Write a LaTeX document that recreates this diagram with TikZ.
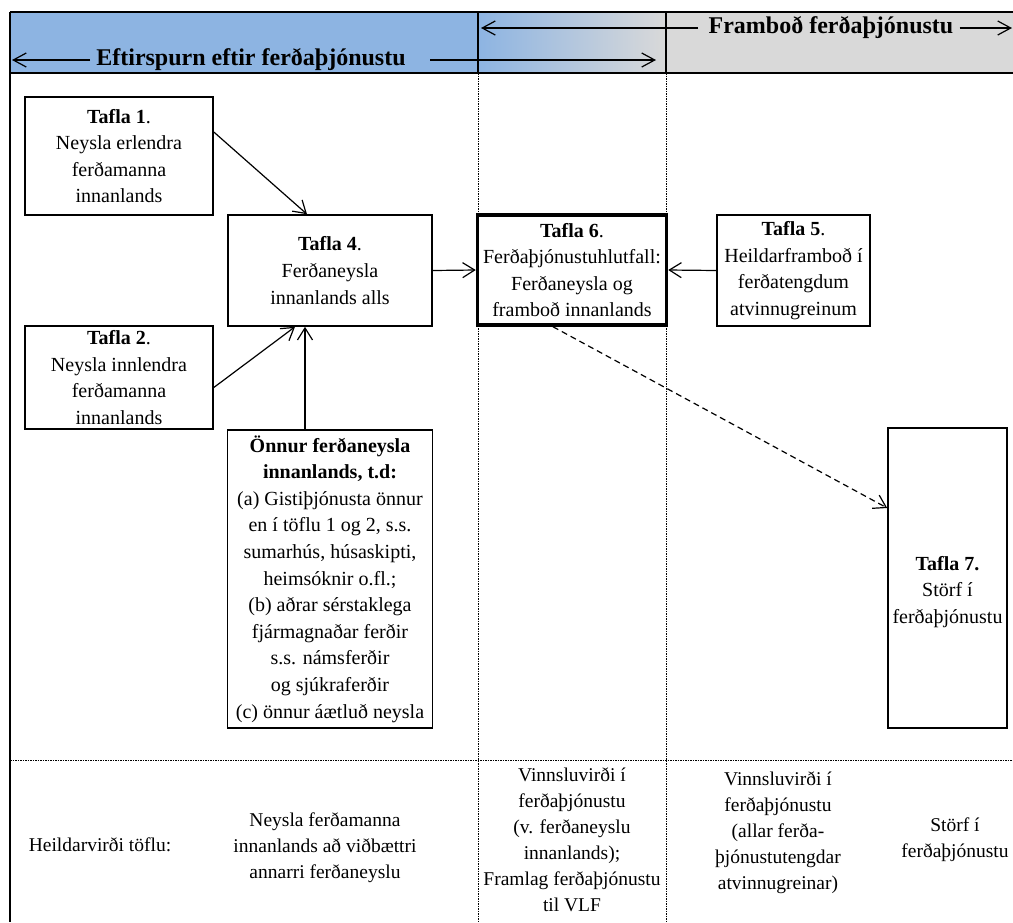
\documentclass[tikz,border=0pt]{standalone}
\usepackage{fontspec}
\setmainfont{Liberation Serif}
\usetikzlibrary{positioning, arrows.meta, calc}
\definecolor{hdrblue}{RGB}{141,180,226}
\definecolor{hdrgrey}{RGB}{217,217,217}

\begin{document}
\begin{tikzpicture}[x=1pt, y=-1pt,
  tbl/.style = {draw, line width=1.6pt, inner sep=1pt, align=center, font=\fontsize{20}{26.6}\selectfont},
  hdr/.style = {inner xsep=6pt, inner ysep=2pt, font=\bfseries\fontsize{24}{28}\selectfont},
  foot/.style = {inner sep=0pt, align=center, font=\fontsize{19.5}{26}\selectfont},
  arr/.style = {line width=1.2pt, -{Straight Barb[length=12pt, width=15pt]}},
  harr/.style = {line width=1.2pt, -{Straight Barb[length=13pt, width=14pt]}},
  sep/.style = {line width=1pt, dash pattern=on 1.5pt off 1pt}]
\useasboundingbox (0,0) rectangle (1013,922);

% header band
\fill[hdrblue] (10,12) rectangle (478,73);
\shade[left color=hdrblue, right color=hdrgrey] (478,12) rectangle (666,73);
\fill[hdrgrey] (666,12) rectangle (1013,73);
\draw[line width=2pt] (10,12) -- (1013,12);
\draw[line width=2pt] (10,73) -- (1013,73);
\draw[line width=2.5pt] (10,12) -- (10,922);
\draw[line width=1.5pt] (478,12) -- (478,73);
\draw[line width=1.5pt] (666,12) -- (666,73);

% column separators
\draw[sep] (478,73) -- (478,922);
\draw[sep] (666,73) -- (666,922);
\draw[sep] (10,760) -- (1013,760);

% header labels
\node[hdr] (dem) at (251,60) {Eftirspurn eftir ferðaþjónustu};
\node[hdr] (sup) at (831,28) {Framboð ferðaþjónustu};
\coordinate (demL) at (12,60);
\coordinate (demM) at (430,60);
\coordinate (demR) at (656,60);
\coordinate (supL) at (481,28);
\coordinate (supM) at (698,28);
\coordinate (supR) at (1012,28);
\draw[harr] (dem.west) -- (demL);
\draw[harr] (demM) -- (demR);
\draw[harr] (supM) -- (supL);
\draw[harr] (sup.east) -- (supR);

% tables
\node[tbl, minimum width=188pt, minimum height=118pt] (t1) at (119,156)
  {\textbf{Tafla 1}.\\Neysla erlendra\\ferðamanna\\innanlands};
\node[tbl, minimum width=188pt, minimum height=103pt] (t2) at (119,377.5)
  {\textbf{Tafla 2}.\\Neysla innlendra\\ferðamanna\\innanlands};
\node[tbl, minimum width=204pt, minimum height=111pt] (t4) at (330,270.5)
  {\textbf{Tafla 4}.\\Ferðaneysla\\innanlands alls};
\node[tbl, minimum width=205pt, minimum height=298pt] (oth) at (330,579)
  {\textbf{Önnur ferðaneysla}\\\textbf{innanlands, t.d:}\\(a) Gistiþjónusta önnur\\en í töflu 1 og 2, s.s.\\sumarhús, húsaskipti,\\heimsóknir o.fl.;\\(b) aðrar sérstaklega\\fjármagnaðar ferðir\\s.s. námsferðir\\og sjúkraferðir\\(c) önnur áætluð neysla};
\node[tbl, line width=3.5pt, minimum width=189pt, minimum height=110pt] (t6) at (572,270)
  {\textbf{Tafla 6}.\\Ferðaþjónustuhlutfall:\\Ferðaneysla og\\framboð innanlands};
\node[tbl, minimum width=153pt, minimum height=111pt] (t5) at (793.5,270.5)
  {\textbf{Tafla 5}.\\Heildarframboð í\\ferðatengdum\\atvinnugreinum};
\node[tbl, minimum width=119pt, minimum height=300pt,
  label={[yshift=-14pt, align=center, inner sep=0pt, font=\fontsize{20}{26.6}\selectfont]center:{\textbf{Tafla 7.}\\Störf í\\ferðaþjónustu}}] (t7) at (947.5,578) {};

% links
\draw[arr] ([yshift=24pt]t1.east) -- ([xshift=-23pt]t4.north);
\draw[arr] ([yshift=-10pt]t2.east) -- ([xshift=-35pt]t4.south);
\draw[arr] ([xshift=-25pt]oth.north) -- ([xshift=-25pt]t4.south);
\foreach \i/\j in {t4.east/t6.west, t5.west/t6.east}{
\draw[arr] (\i) -- (\j);
}
\draw[arr, dash pattern=on 6pt off 4pt] ([xshift=-19pt]t6.south) -- ([yshift=70pt]t7.west);

% totals row
\node[foot] (tot) at (100,845) {Heildarvirði töflu:};
\node[foot] (dsum) at (325,848) {Neysla ferðamanna\\innanlands að viðbættri\\annarri ferðaneyslu};
\node[foot] (vadd) at (572,840) {Vinnsluvirði í\\ferðaþjónustu\\(v. ferðaneyslu\\innanlands);\\Framlag ferðaþjónustu\\til VLF};
\node[foot] (vall) at (778,833) {Vinnsluvirði í\\ferðaþjónustu\\(allar ferða-\\þjónustutengdar\\atvinnugreinar)};
\node[foot] (jobs) at (955,840) {Störf í\\ferðaþjónustu};
\end{tikzpicture}
\end{document}
